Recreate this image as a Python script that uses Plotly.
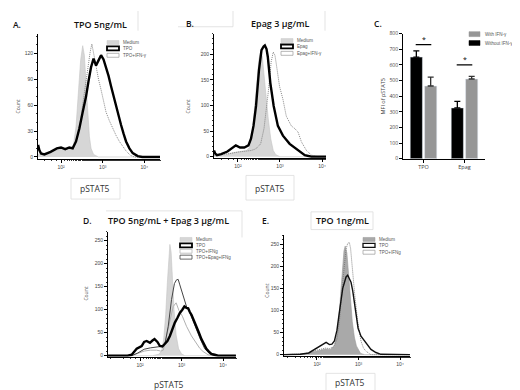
import plotly.graph_objects as go

W, H = 520, 390

# ---------------- data (log10 fluorescence, count) ----------------
A_medium_log = [1.45, 1.7, 1.9, 2.05, 2.2, 2.3, 2.36, 2.42, 2.47, 2.52, 2.56, 2.6, 2.64, 2.68, 2.72, 2.78, 2.9, 4.38]
A_medium_cnt = [3, 5, 8, 9, 9, 14, 35, 75, 112, 129, 118, 85, 50, 24, 10, 3, 0, 0]
A_tpo_log = [1.45, 1.48, 1.52, 1.6, 1.75, 1.9, 2.0, 2.1, 2.2, 2.28, 2.36, 2.44, 2.52, 2.6, 2.66, 2.72, 2.78,
             2.84, 2.9, 2.96, 3.02, 3.08, 3.14, 3.2, 3.26, 3.32, 3.38, 3.44, 3.5, 3.56, 3.64, 3.72, 3.84, 3.95, 4.38]
A_tpo_cnt = [14, 8, 4, 3, 6, 10, 11, 9, 11, 10, 18, 33, 52, 70, 88, 104, 114,
             106, 112, 118, 113, 104, 94, 82, 70, 59, 48, 37, 27, 18, 10, 4.5, 1, 0, 0]
A_ifn_log = [1.45, 1.5, 1.6, 1.75, 1.9, 2.0, 2.1, 2.2, 2.28, 2.34, 2.4, 2.46, 2.52, 2.58, 2.64, 2.7, 2.74, 2.78,
             2.84, 2.9, 2.96, 3.02, 3.08, 3.16, 3.24, 3.32, 3.4, 3.48, 3.56, 3.66, 3.76, 4.38]
A_ifn_cnt = [10, 5, 3, 6, 10, 11, 9, 10, 11, 16, 25, 40, 62, 82, 104, 122, 131, 120,
             104, 90, 78, 65, 52, 42, 33, 25, 18, 12, 7, 2, 0, 0]

B_medium_log = [1.43, 1.7, 1.9, 2.05, 2.2, 2.28, 2.35, 2.4, 2.45, 2.5, 2.54, 2.58, 2.62, 2.67, 2.72, 2.78, 2.84, 2.9, 3.0, 4.1]
B_medium_cnt = [2, 4, 8, 10, 12, 18, 50, 100, 150, 190, 205, 195, 160, 115, 75, 35, 12, 4, 0, 0]
B_epag_log = [1.43, 1.46, 1.5, 1.6, 1.75, 1.9, 1.95, 2.05, 2.15, 2.25, 2.31, 2.37, 2.43, 2.5, 2.56, 2.61, 2.64,
              2.68, 2.71, 2.77, 2.85, 2.95, 3.07, 3.23, 3.39, 3.5, 3.59, 3.75, 4.1]
B_epag_cnt = [12, 6, 3, 5, 10, 18, 22, 18, 18, 22, 35, 60, 99, 169, 208, 215, 217,
              210, 195, 144, 99, 60, 41, 25, 15, 8, 3, 0, 0]
B_ifn_log = [1.43, 1.6, 1.8, 2.0, 2.2, 2.31, 2.42, 2.54, 2.62, 2.67, 2.72, 2.75, 2.79, 2.84, 2.88, 2.91, 2.95,
             2.99, 3.07, 3.15, 3.27, 3.35, 3.43, 3.51, 3.63, 3.75, 3.9, 4.1]
B_ifn_cnt = [3, 4, 6, 9, 10, 12, 15, 25, 55, 86, 125, 150, 185, 204, 198, 182, 160,
             137, 112, 79, 60, 55, 48, 29, 12, 3, 0, 0]

C_categories = ["TPO", "Epag"]
C_without = [650, 325]
C_without_err = [40, 42]
C_with = [465, 510]
C_with_err = [57, 17]
C_sig_y = [730, 600]

D_medium_log = [1.23, 2.3, 2.45, 2.52, 2.57, 2.62, 2.66, 2.69, 2.72, 2.75, 2.78, 2.82, 2.87, 2.93, 3.0, 3.08, 4.31]
D_medium_cnt = [0, 0, 3, 10, 35, 90, 160, 215, 242, 225, 170, 100, 45, 15, 4, 0, 0]
D_tpo_log = [1.23, 1.7, 1.8, 1.92, 2.04, 2.1, 2.16, 2.24, 2.3, 2.35, 2.42, 2.48, 2.54, 2.6, 2.66, 2.72, 2.78, 2.84,
             2.9, 2.96, 3.02, 3.07, 3.12, 3.16, 3.2, 3.24, 3.3, 3.36, 3.42, 3.48, 3.54, 3.6, 3.66, 3.72, 3.8, 3.88, 4.31]
D_tpo_cnt = [0, 0, 2, 15, 21, 30, 32, 28, 33, 36, 30, 21, 20, 25, 32, 43, 58, 72,
             82, 93, 100, 107, 104, 103, 95, 89, 76, 64, 50, 36, 25, 15, 9, 4, 2, 0, 0]
D_ifn_log = [1.23, 1.8, 1.95, 2.1, 2.25, 2.4, 2.5, 2.56, 2.64, 2.72, 2.8, 2.87, 2.94, 3.02, 3.12, 3.24, 3.36, 3.44,
             3.52, 3.64, 3.75, 4.31]
D_ifn_cnt = [0, 0, 5, 10, 12, 12, 10, 12, 43, 79, 107, 115, 98, 86, 64, 43, 25, 16, 9, 2, 0, 0]
D_combo_log = [1.23, 1.8, 1.95, 2.1, 2.25, 2.4, 2.5, 2.6, 2.68, 2.76, 2.83, 2.88, 2.92, 2.96, 3.04, 3.12, 3.18,
               3.22, 3.32, 3.44, 3.56, 3.68, 3.8, 4.31]
D_combo_cnt = [0, 0, 6, 14, 17, 18, 20, 25, 64, 122, 157, 165, 166, 154, 129, 107, 98, 89, 64, 39, 15, 4, 0, 0]

E_medium_log = [1.2, 1.7, 1.9, 2.05, 2.2, 2.32, 2.42, 2.48, 2.54, 2.58, 2.62, 2.65, 2.68, 2.72, 2.77, 2.81, 2.85,
                2.9, 2.95, 3.05, 3.15, 4.24]
E_medium_cnt = [0, 2, 6, 10, 13, 12, 20, 45, 97, 150, 200, 235, 246, 230, 172, 120, 75, 40, 20, 3, 0, 0]
E_tpo_log = [1.2, 1.6, 1.8, 1.94, 2.04, 2.1, 2.16, 2.22, 2.3, 2.36, 2.42, 2.48, 2.54, 2.62, 2.7, 2.74, 2.78, 2.82,
             2.86, 2.9, 2.94, 2.99, 3.06, 3.14, 3.22, 3.3, 3.42, 3.54, 4.24]
E_tpo_cnt = [0, 1, 4, 12, 18, 23, 26, 28, 23, 24, 31, 55, 97, 150, 176, 180, 172, 164,
             145, 120, 90, 60, 42, 31, 20, 12, 5, 1, 0]
E_ifn_log = [1.2, 1.6, 1.8, 1.94, 2.1, 2.2, 2.3, 2.4, 2.48, 2.54, 2.62, 2.7, 2.74, 2.78, 2.81, 2.85, 2.91, 2.98,
             3.06, 3.12, 3.18, 3.3, 4.24]
E_ifn_cnt = [0, 1, 3, 9, 12, 15, 14, 18, 35, 75, 164, 239, 252, 254, 240, 194, 135, 75, 31, 15, 8, 0, 0]

decade_vals = [100, 1000, 10000]
decade_text = ["10²", "10³", "10⁴"]

# ---------------- helpers ----------------
def px(x):
    return x / W

def py(y):
    return 1 - y / H

fig = go.Figure()

def lin(v):
    return [10 ** a for a in v]

def add_hist(xl, yl, ax, style):
    fig.add_trace(go.Scatter(x=lin(xl), y=yl, mode="lines", xaxis=ax, yaxis=ax.replace("x", "y"),
                             showlegend=False, hoverinfo="skip", **style))

MED = dict(fill="tozeroy", fillcolor="#d6d6d6", line=dict(color="#c4c4c4", width=0.6))
MED_E = dict(fill="tozeroy", fillcolor="#a9a9a9", line=dict(color="#999999", width=0.6))
THICK = dict(line=dict(color="#000000", width=2.4))
MIDB = dict(line=dict(color="#111111", width=1.4))
THIN = dict(line=dict(color="#7a7a7a", width=0.9, dash="1px,1px"))
THIN_L = dict(line=dict(color="#b0b0b0", width=1.0))
THIN_D = dict(line=dict(color="#444444", width=1.0))

# panel A
add_hist(A_medium_log, A_medium_cnt, "x", MED)
add_hist(A_ifn_log, A_ifn_cnt, "x", THIN)
add_hist(A_tpo_log, A_tpo_cnt, "x", THICK)
# panel B
add_hist(B_medium_log, B_medium_cnt, "x2", MED)
add_hist(B_ifn_log, B_ifn_cnt, "x2", THIN)
add_hist(B_epag_log, B_epag_cnt, "x2", THICK)
# panel D
add_hist(D_medium_log, D_medium_cnt, "x4", MED)
add_hist(D_ifn_log, D_ifn_cnt, "x4", THIN_L)
add_hist(D_combo_log, D_combo_cnt, "x4", THIN_D)
add_hist(D_tpo_log, D_tpo_cnt, "x4", THICK)
# panel E
add_hist(E_medium_log, E_medium_cnt, "x5", MED_E)
add_hist(E_ifn_log, E_ifn_cnt, "x5", THIN)
add_hist(E_tpo_log, E_tpo_cnt, "x5", MIDB)

# panel C bars
cx = list(range(len(C_categories)))
fig.add_trace(go.Bar(x=cx, y=C_without, xaxis="x3", yaxis="y3", marker_color="#000000", showlegend=False,
                     error_y=dict(type="data", array=C_without_err, arrayminus=[0] * len(cx), symmetric=False,
                                  color="#000000", thickness=1.3, width=3)))
fig.add_trace(go.Bar(x=cx, y=C_with, xaxis="x3", yaxis="y3", marker_color="#969696", showlegend=False,
                     error_y=dict(type="data", array=C_with_err, arrayminus=[0] * len(cx), symmetric=False,
                                  color="#333333", thickness=1.3, width=3)))
for i, ys in enumerate(C_sig_y):
    fig.add_trace(go.Scatter(x=[i - 0.19, i + 0.19], y=[ys, ys], mode="lines", xaxis="x3", yaxis="y3",
                             line=dict(color="#000000", width=1.2), showlegend=False, hoverinfo="skip"))
    fig.add_annotation(x=i, y=ys, xref="x3", yref="y3", text="*", showarrow=False, yshift=5,
                       font=dict(size=7, color="#000"))

TF = dict(size=5, color="#444444", family="Liberation Sans")

def flow_x(dom, rng, anchor):
    return dict(domain=[px(dom[0]), px(dom[1])], type="log", range=rng, showline=True, linecolor="#000",
                linewidth=1, ticks="outside", ticklen=3, tickwidth=0.8, tickcolor="#000", anchor=anchor,
                tickvals=decade_vals, ticktext=decade_text, tickfont=TF, showgrid=False, zeroline=False,
                minor=dict(ticks="outside", ticklen=1.5, tickwidth=0.5, tickcolor="#333"))

def flow_y(dom, rng, dt, anchor):
    return dict(domain=[py(dom[1]), py(dom[0])], range=rng, showline=True, linecolor="#000", linewidth=1,
                ticks="outside", ticklen=3, tickwidth=0.8, tickcolor="#000", dtick=dt, tick0=0,
                tickfont=TF, showgrid=False, zeroline=False, anchor=anchor,
                minor=dict(ticks="outside", ticklen=1.5, tickwidth=0.5, tickcolor="#333", dtick=10))

layout = dict(
    width=W, height=H, margin=dict(l=0, r=0, t=0, b=0), paper_bgcolor="white", plot_bgcolor="white",
    barmode="group", bargap=0.3, bargroupgap=0.15, showlegend=False,
    font=dict(family="Open Sans", color="#222"),
)
layout["xaxis"] = flow_x([30, 152], [1.448, 4.374], "y")
layout["yaxis"] = flow_y([23, 150], [-2, 143], 30, "x")
layout["xaxis2"] = flow_x([206, 318], [1.43, 4.095], "y2")
layout["yaxis2"] = flow_y([23, 149], [-2, 240], 50, "x2")
layout["xaxis4"] = flow_x([100, 228], [1.229, 4.313], "y4")
layout["yaxis4"] = flow_y([224, 351], [-2, 270], 50, "x4")
layout["xaxis5"] = flow_x([276, 402], [1.205, 4.241], "y5")
layout["yaxis5"] = flow_y([227, 350], [-2, 272], 50, "x5")
layout["xaxis3"] = dict(domain=[px(395), px(477)], range=[-0.5, 1.5], anchor="y3", showline=True,
                        linecolor="#000", linewidth=1, ticks="outside", ticklen=3, tickcolor="#000",
                        tickvals=cx, ticktext=C_categories, tickfont=dict(size=5.5, color="#444"),
                        showgrid=False, zeroline=False)
layout["yaxis3"] = dict(domain=[py(150), py(23)], range=[0, 800], anchor="x3", showline=True, linecolor="#000",
                        linewidth=1, ticks="outside", ticklen=3, tickcolor="#000", dtick=100,
                        tickfont=dict(size=5, color="#444"), showgrid=False, zeroline=False,
                        title=dict(text="MFI of pSTAT5", font=dict(size=5.5, color="#444"), standoff=3))
fig.update_layout(**layout)

# ---------------- text ----------------
def txt(x, y, s, size, color="#111", xanchor="center", angle=0, family="Open Sans", weight=None):
    f = dict(size=size, color=color, family=family)
    if weight:
        f["weight"] = weight
    fig.add_annotation(x=px(x), y=py(y), xref="paper", yref="paper", text=s, showarrow=False,
                       xanchor=xanchor, yanchor="middle", textangle=angle, font=f)

for xx, yy, letter in [(3, 14, "A."), (176, 13, "B."), (364, 13, "C."), (73, 213, "D."), (252, 213, "E.")]:
    txt(xx, yy, letter, 8.5, xanchor="left", weight=600)

txt(92, 14, "TPO 5ng/mL", 9, weight=600)
txt(272, 13, "Epag 3 μg/mL", 9, weight=600)
txt(160, 213, "TPO 5ng/mL + Epag 3 μg/mL", 9, weight=600)
txt(334, 213, "TPO 1ng/mL", 9, weight=600)

txt(87, 180, "pSTAT5", 8.5, color="#333")
txt(262, 180, "pSTAT5", 8.5, color="#333")
txt(161, 379, "pSTAT5", 8.5, color="#333")
txt(342, 377, "pSTAT5", 8.5, color="#333")

txt(10, 97, "Count", 5, color="#555", angle=-90)
txt(180, 97, "Count", 5, color="#555", angle=-90)
txt(78, 287, "Count", 5, color="#555", angle=-90)
txt(259, 284, "Count", 5, color="#555", angle=-90)

# boxes around titles / axis labels (light grey)
def rect(x0, y0, x1, y1, color="#dcdcdc", fill=None, width=0.8):
    fig.add_shape(type="rect", xref="paper", yref="paper", x0=px(x0), x1=px(x1), y0=py(y1), y1=py(y0),
                  line=dict(color=color, width=width), fillcolor=fill if fill else "rgba(0,0,0,0)")

def hline(x0, x1, y, color="#dcdcdc"):
    fig.add_shape(type="line", xref="paper", yref="paper", x0=px(x0), x1=px(x1), y0=py(y), y1=py(y),
                  line=dict(color=color, width=0.8))

def vline(x, y0, y1, color="#dcdcdc"):
    fig.add_shape(type="line", xref="paper", yref="paper", x0=px(x), x1=px(x), y0=py(y0), y1=py(y1),
                  line=dict(color=color, width=0.8))

vline(130, 0, 20)
hline(170, 225, 16); vline(225, 0, 16); vline(317, 0, 20)
rect(63, 170, 112, 191)
rect(238, 167, 286, 192)
hline(98, 234, 203); vline(234, 203, 230)
rect(303, 204, 365, 222)
rect(318, 368, 367, 387)

# legends of histogram panels
def leg(x, y, label, kind):
    styles = {
        "med": ("#c8c8c8", "#d6d6d6", 0.5),
        "medE": ("#999999", "#a9a9a9", 0.5),
        "thick": ("#000000", None, 1.8),
        "midb": ("#111111", None, 1.3),
        "thin": ("#999999", None, 0.7),
        "thinl": ("#b5b5b5", None, 0.8),
        "dark": ("#444444", None, 0.8),
    }
    c, f, w = styles[kind]
    rect(x, y - 2, x + 12, y + 2, color=c, fill=f, width=w)
    txt(x + 14, y, label, 4.5, color="#555", xanchor="left", family="Liberation Sans")

leg(99, 32, "Medium", "med"); leg(99, 38, "TPO", "thick"); leg(99, 45, "TPO+IFN-γ", "thin")
leg(273, 30, "Medium", "med"); leg(273, 36, "Epag", "thick"); leg(273, 43, "Epag+IFN-γ", "thin")
leg(172, 232, "Medium", "med"); leg(172, 238, "TPO", "thick"); leg(172, 244, "TPO+IFNg", "thinl")
leg(172, 250, "TPO+Epag+IFNg", "dark")
leg(355, 232, "Medium", "medE"); leg(355, 238, "TPO", "midb"); leg(355, 245, "TPO+IFNg", "thin")

# legend of bar panel
rect(461, 21, 472, 26, color="#969696", fill="#969696", width=0.5)
rect(461, 30, 472, 35, color="#000", fill="#000", width=0.5)
txt(475, 23.5, "With IFN-γ", 4.5, color="#555", xanchor="left", family="Liberation Sans")
txt(475, 32.5, "Without IFN-γ", 4.5, color="#555", xanchor="left", family="Liberation Sans")

fig.write_html("out.html")
